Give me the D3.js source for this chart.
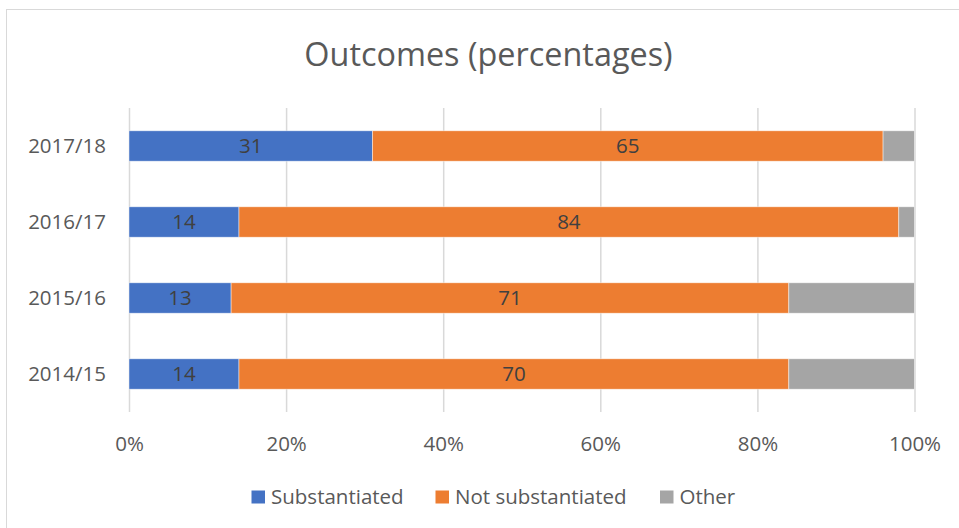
<!DOCTYPE html>
<html>
<head>
<meta charset="utf-8">
<script src="https://cdn.jsdelivr.net/npm/d3@7"></script>
<style>
  html, body { margin: 0; padding: 0; background: #fff; }
  svg { display: block; font-family: "Open Sans", Lato, sans-serif; }
</style>
</head>
<body>
<svg id="chart" width="959" height="528"></svg>
<script>
// Outcome shares by year (percent)
const years = ["2017/18", "2016/17", "2015/16", "2014/15"];
const substantiated = [31, 14, 13, 14];
const notSubstantiated = [65, 84, 71, 70];
const other = [4, 2, 16, 16];
const seriesNames = ["Substantiated", "Not substantiated", "Other"];
const seriesColors = ["#4472c4", "#ed7d31", "#a5a5a5"];
const tickValues = [0, 20, 40, 60, 80, 100];
const labelledSeries = [true, true, false];

const svg = d3.select("#chart");
const W = 959, H = 528;
const FONT = "'Open Sans', Lato, sans-serif";
const LABEL_SIZE = 20.5;

// chart frame
svg.append("rect")
  .attr("x", 6.5).attr("y", 9.5)
  .attr("width", W + 10).attr("height", H + 10)
  .attr("fill", "#fff").attr("stroke", "#d9d9d9").attr("stroke-width", 1);

const plot = { left: 129, right: 914.5, top: 108, bottom: 412 };

const x = d3.scaleLinear().domain([0, 100]).range([plot.left, plot.right]);
const y = d3.scaleBand().domain(years).range([plot.top, plot.bottom]).paddingInner(0.6).paddingOuter(0.3);

// title
svg.append("text")
  .attr("x", 488.5).attr("y", 66)
  .attr("text-anchor", "middle")
  .attr("font-size", 32.4)
  .attr("fill", "#595959")
  .text("Outcomes (percentages)");

// vertical gridlines and percentage ticks
const xAxis = d3.axisBottom(x).tickValues(tickValues).tickFormat(d => d + "%")
  .tickSize(-(plot.bottom - plot.top)).tickPadding(24);
const gx = svg.append("g").attr("transform", `translate(0,${plot.bottom})`).call(xAxis);
gx.select(".domain").remove();
gx.selectAll(".tick line").attr("stroke", "#d9d9d9").attr("stroke-width", 1.5);
gx.selectAll(".tick text").attr("fill", "#595959").attr("font-size", LABEL_SIZE)
  .attr("font-family", FONT);

// category axis
const yAxis = d3.axisLeft(y).tickSize(0).tickPadding(23);
const gy = svg.append("g").attr("transform", `translate(${plot.left},0)`).call(yAxis);
gy.select(".domain").remove();
gy.selectAll(".tick text").attr("fill", "#595959").attr("font-size", LABEL_SIZE)
  .attr("font-family", FONT);

// stacked bars
const rows = years.map((yr, i) => ({ year: yr, s0: substantiated[i], s1: notSubstantiated[i], s2: other[i] }));
const stack = d3.stack().keys(["s0", "s1", "s2"]);
const layers = stack(rows);

layers.forEach((layer, k) => {
  const g = svg.append("g");
  g.selectAll("rect").data(layer).join("rect")
    .attr("x", d => x(d[0]))
    .attr("y", d => y(d.data.year))
    .attr("width", d => x(d[1]) - x(d[0]))
    .attr("height", y.bandwidth())
    .attr("fill", seriesColors[k])
    .attr("stroke", "#ffffff").attr("stroke-opacity", 0.6).attr("stroke-width", 0.75);
  if (labelledSeries[k]) {
    g.selectAll("text").data(layer).join("text")
      .attr("x", d => (x(d[0]) + x(d[1])) / 2)
      .attr("y", d => y(d.data.year) + y.bandwidth() / 2)
      .attr("dy", "0.36em")
      .attr("text-anchor", "middle")
      .attr("font-size", LABEL_SIZE)
      .attr("fill", "#404040")
      .text(d => d[1] - d[0]);
  }
});

// legend
const legendItems = [
  { name: seriesNames[0], color: seriesColors[0], x: 251.5 },
  { name: seriesNames[1], color: seriesColors[1], x: 435.5 },
  { name: seriesNames[2], color: seriesColors[2], x: 660 }
];
const lg = svg.append("g");
legendItems.forEach(it => {
  lg.append("rect").attr("x", it.x).attr("y", 490.5).attr("width", 13.5).attr("height", 13).attr("fill", it.color);
  lg.append("text").attr("x", it.x + 19.5).attr("y", 503.5)
    .attr("font-size", LABEL_SIZE).attr("fill", "#595959").text(it.name);
});
</script>
</body>
</html>
